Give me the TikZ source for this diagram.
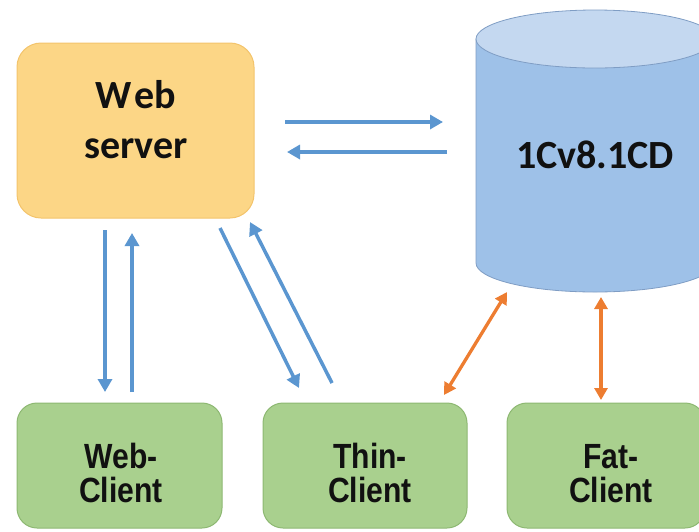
\documentclass[tikz,border=0pt]{standalone}
\usepackage{fontspec}
\setmainfont{Carlito}
\newfontfamily\narrowfont[FakeStretch=0.86]{Liberation Sans}
\usetikzlibrary{arrows.meta,calc}
\definecolor{wsfill}{HTML}{FCD686}
\definecolor{wsdraw}{HTML}{F3C46C}
\definecolor{cbody}{HTML}{9EC1E8}
\definecolor{ctop}{HTML}{C4D8F0}
\definecolor{cdraw}{HTML}{7F9DC4}
\definecolor{gfill}{HTML}{A9D08E}
\definecolor{gdraw}{HTML}{8DB872}
\definecolor{barrow}{HTML}{5B96D0}
\definecolor{oarrow}{HTML}{ED7D31}
\definecolor{txt}{HTML}{111111}
\tikzset{
  wsbox/.style={draw=wsdraw, fill=wsfill, line width=1pt, rounded corners=24pt,
    minimum width=237pt, minimum height=175pt, inner sep=0pt},
  clientbox/.style={draw=gdraw, fill=gfill, line width=1pt, rounded corners=20pt,
    minimum width=205pt, minimum height=125pt, inner sep=0pt},
  bigtext/.style={font=\fontsize{40}{48}\selectfont\bfseries, text=txt, inner sep=0pt, anchor=base},
  clienttext/.style={font=\narrowfont\fontsize{35}{40}\selectfont\bfseries, text=txt, inner sep=0pt, anchor=base},
  bluearrow/.style={draw=barrow, line width=3.5pt, -{Triangle[length=13pt,width=14pt]}},
  orangearrow/.style={draw=oarrow, line width=3.3pt,
    {Triangle[length=12pt,width=13pt]}-{Triangle[length=12pt,width=13pt]}},
  cyl/.style={draw=cdraw, line width=0.8pt},
}
\begin{document}
\begin{tikzpicture}[x=1pt,y=-1pt]
\useasboundingbox (0,0) rectangle (699,531);
\clip (0,0) rectangle (699,531);

% Web server
\node[wsbox] (ws) at (135.5,130.5) {};
\node[bigtext] (wst1) at (136,108) {W\kern3pt eb};
\node[bigtext] (wst2) at (136,158) {server};

% Database cylinder
\path[cyl, fill=cbody] (476,39) -- (476,263)
  arc[start angle=180, end angle=360, x radius=119pt, y radius=29pt] -- (714,39) -- cycle;
\path[cyl, fill=ctop] (595,39) ellipse [x radius=119pt, y radius=29pt];
\node[bigtext] (db) at (595,168) {1Cv8.1CD};

% Clients
\node[clientbox] (wc) at (119.5,465.5) {};
\node[clienttext] (wct1) at (121,468) {Web-};
\node[clienttext] (wct2) at (121,502) {Client};

\node[clientbox, minimum width=204pt] (tc) at (365,465.5) {};
\node[clienttext] (tct1) at (370,468) {Thin-};
\node[clienttext] (tct2) at (370,502) {Client};

\node[clientbox, minimum width=198pt] (fc) at (606,465.5) {};
\node[clienttext] (fct1) at (611,468) {Fat-};
\node[clienttext] (fct2) at (611,502) {Client};

% connector end points
\coordinate (h1s) at (285,122);  \coordinate (h1e) at (443,122);
\coordinate (h2s) at (447,152);  \coordinate (h2e) at (287,152);
\coordinate (v1s) at (105,230);  \coordinate (v1e) at (105,392);
\coordinate (v2s) at (132,392);  \coordinate (v2e) at (132,233);
\coordinate (d1s) at (220,228);  \coordinate (d1e) at (299,388);
\coordinate (d2s) at (332,383);  \coordinate (d2e) at (250,222);
\coordinate (o1s) at (444,395);  \coordinate (o1e) at (507,292);
\coordinate (o2s) at (601,400);  \coordinate (o2e) at (601,297);

% blue arrows
\draw[bluearrow] (h1s) -- (h1e);
\draw[bluearrow] (h2s) -- (h2e);
\draw[bluearrow] (v1s) -- (v1e);
\draw[bluearrow] (v2s) -- (v2e);
\draw[bluearrow] (d1s) -- (d1e);
\draw[bluearrow] (d2s) -- (d2e);

% orange arrows
\draw[orangearrow] (o1s) -- (o1e);
\draw[orangearrow] (o2s) -- (o2e);
\end{tikzpicture}
\end{document}
